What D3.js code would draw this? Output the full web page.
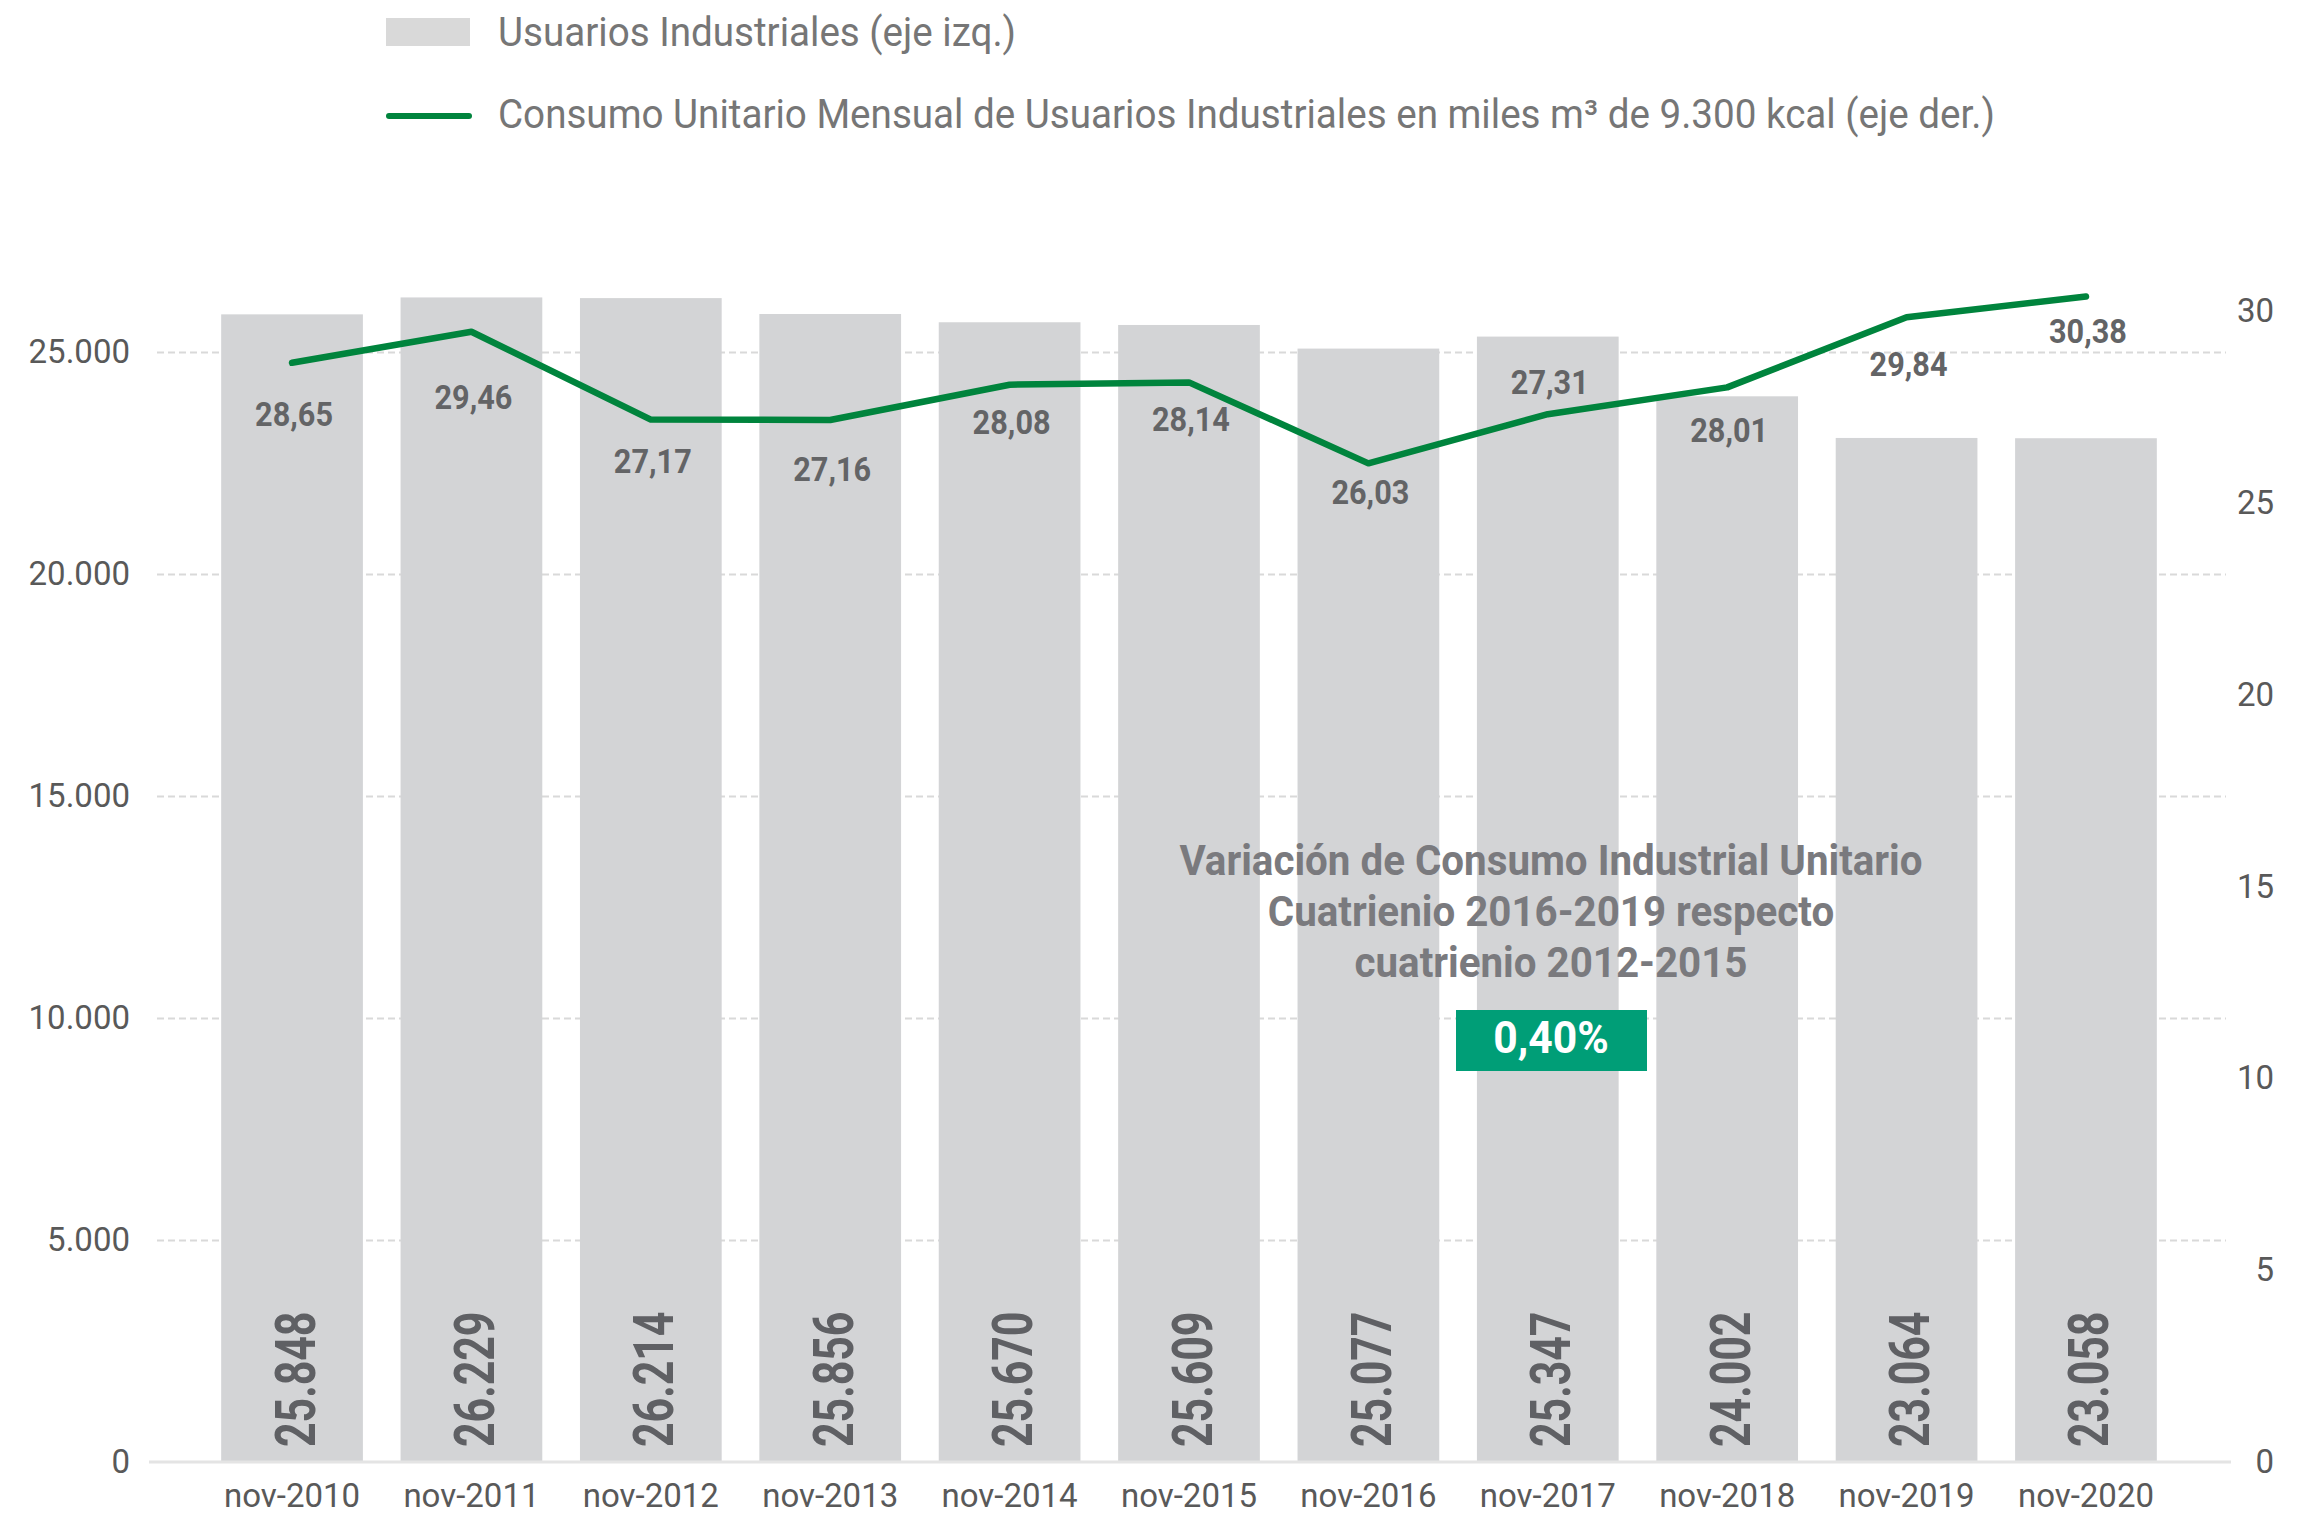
<!DOCTYPE html>
<html>
<head>
<meta charset="utf-8">
<script src="https://cdn.jsdelivr.net/npm/d3@7"></script>
<style>
    body { margin: 0; background: #fff; }
    svg { display: block; font-family: Roboto, "Noto Sans", sans-serif; }
</style>
</head>
<body>
<svg id="chart" width="2311" height="1514"></svg>
<script>
const periods = ["nov-2010", "nov-2011", "nov-2012", "nov-2013", "nov-2014", "nov-2015",
    "nov-2016", "nov-2017", "nov-2018", "nov-2019", "nov-2020"];
const industrialUsers = [25848, 26229, 26214, 25856, 25670, 25609, 25077, 25347, 24002, 23064, 23058];
const unitConsumption = [28.65, 29.46, 27.17, 27.16, 28.08, 28.14, 26.03, 27.31, 28.01, 29.84, 30.38];
const leftTicks = [0, 5000, 10000, 15000, 20000, 25000];
const rightTicks = [0, 5, 10, 15, 20, 25, 30];
const seriesNames = [
    "Usuarios Industriales (eje izq.)",
    "Consumo Unitario Mensual de Usuarios Industriales en miles m³ de 9.300 kcal (eje der.)"
];
const noteLines = [
    "Variación de Consumo Industrial Unitario",
    "Cuatrienio 2016-2019 respecto",
    "cuatrienio 2012-2015"
];
const noteValue = "0,40%";

// label nudges (px from the point), the labels were hand placed in the original
const lineLabelShift = [51, 65, 41, 49, 37, 37, 29, -32, 43, 47, 35];

const colors = { bar: "#d3d4d6", swatch: "#d9d9d9", line: "#00843d", box: "#009e77",
    axis: "#595959", legend: "#767676", barLabel: "#5f6064", lineLabel: "#636466", note: "#7a7a7e" };

const es = d3.formatLocale({ decimal: ",", thousands: ".", grouping: [3], currency: ["$", ""] });
const fmtInt = es.format(",d");
const fmtDec = es.format(",.2f");

const svg = d3.select("#chart");

const plot = { left: 157, right: 2226, base: 1462 };

const x = d3.scaleBand().domain(periods).range([183.5, 2194.5]).padding(0.21);
const yL = d3.scaleLinear().domain([0, 30000]).range([plot.base, 130]);
const yR = d3.scaleLinear().domain([0, 35]).range([plot.base, 119.2]);
const cx = d => x(d) + x.bandwidth() / 2;

// squeezed text (stands in for a condensed face)
function ctext(parent, px, py, str, opts) {
    const g = parent.append("g")
        .attr("transform", `translate(${px},${py}) scale(${opts.sx || 1},1)`);
    return g.append("text")
        .attr("text-anchor", opts.anchor || "start")
        .attr("font-size", opts.size)
        .attr("font-weight", opts.weight || 400)
        .attr("fill", opts.fill)
        .text(str);
}

// left axis + grid
const gy = svg.append("g")
    .attr("class", "axis y-left")
    .attr("transform", `translate(${plot.left},0)`)
    .call(d3.axisLeft(yL).tickValues(leftTicks).tickFormat(fmtInt)
        .tickSize(-(plot.right - plot.left)).tickPadding(27));
gy.select(".domain").remove();
gy.selectAll(".tick line")
    .attr("stroke", "#d9d9d9")
    .attr("stroke-width", 2)
    .attr("stroke-dasharray", "7,4")
    .filter(d => d === 0).remove();
gy.selectAll(".tick text")
    .attr("font-size", 33)
    .attr("font-family", "Roboto")
    .attr("fill", colors.axis);

// right axis
const gr = svg.append("g")
    .attr("class", "axis y-right")
    .attr("transform", "translate(2274,0)")
    .call(d3.axisRight(yR).tickValues(rightTicks).tickSize(0).tickPadding(0));
gr.select(".domain").remove();
gr.selectAll(".tick text")
    .attr("x", 0)
    .attr("text-anchor", "end")
    .attr("font-size", 33)
    .attr("font-family", "Roboto")
    .attr("fill", colors.axis);

// bars
svg.append("g").attr("class", "bars")
    .selectAll("rect")
    .data(periods)
    .enter()
    .append("rect")
    .attr("x", d => x(d))
    .attr("width", x.bandwidth())
    .attr("y", (d, i) => yL(industrialUsers[i]))
    .attr("height", (d, i) => yL(0) - yL(industrialUsers[i]))
    .attr("fill", colors.bar);

// baseline
svg.append("line")
    .attr("x1", 149).attr("x2", 2231)
    .attr("y1", yL(0)).attr("y2", yL(0))
    .attr("stroke", "#e4e4e4")
    .attr("stroke-width", 3);

// x axis
const gx = svg.append("g")
    .attr("class", "axis x")
    .attr("transform", `translate(0,${plot.base})`)
    .call(d3.axisBottom(x).tickSize(0).tickPadding(22));
gx.select(".domain").remove();
gx.selectAll(".tick text")
    .attr("font-size", 33)
    .attr("font-family", "Roboto")
    .attr("fill", colors.axis);

// bar values, rotated
svg.append("g").attr("class", "bar-labels")
    .selectAll("g")
    .data(periods)
    .enter()
    .append("g")
    .attr("transform", d => `translate(${cx(d) + 3},${yL(0) - 15}) rotate(-90) scale(0.78,1)`)
    .append("text")
    .attr("dy", "0.355em")
    .attr("font-size", 55)
    .attr("font-weight", 700)
    .attr("fill", colors.barLabel)
    .text((d, i) => fmtInt(industrialUsers[i]));

// consumption line
const line = d3.line()
    .x((d, i) => cx(periods[i]))
    .y(d => yR(d));

svg.append("path")
    .datum(unitConsumption)
    .attr("d", line)
    .attr("fill", "none")
    .attr("stroke", colors.line)
    .attr("stroke-width", 6.5)
    .attr("stroke-linejoin", "round")
    .attr("stroke-linecap", "round");

const lbl = svg.append("g").attr("class", "line-labels");
unitConsumption.forEach((v, i) => {
    ctext(lbl, cx(periods[i]) + 2, yR(v) + lineLabelShift[i] + 12, fmtDec(v),
        { size: 33, weight: 700, sx: 0.93, anchor: "middle", fill: colors.lineLabel });
});

// note
const note = svg.append("g").attr("class", "note");
noteLines.forEach((t, i) => {
    ctext(note, 1551, 875 + i * 51, t,
        { size: 42, weight: 700, sx: 0.96, anchor: "middle", fill: colors.note });
});
note.append("rect")
    .attr("x", 1456).attr("y", 1010)
    .attr("width", 191).attr("height", 61)
    .attr("fill", colors.box);
ctext(note, 1551, 1053, noteValue,
    { size: 45, weight: 700, sx: 0.95, anchor: "middle", fill: "#fff" });

// legend
const legend = svg.append("g").attr("class", "legend");
legend.append("rect")
    .attr("x", 386).attr("y", 18)
    .attr("width", 84).attr("height", 28)
    .attr("fill", colors.swatch);
legend.append("line")
    .attr("x1", 389).attr("x2", 469)
    .attr("y1", 116).attr("y2", 116)
    .attr("stroke", colors.line)
    .attr("stroke-width", 6)
    .attr("stroke-linecap", "round");
seriesNames.forEach((t, i) => {
    ctext(legend, 498, 46 + i * 82, t, { size: 40, sx: 0.965, fill: colors.legend });
});
</script>
</body>
</html>
